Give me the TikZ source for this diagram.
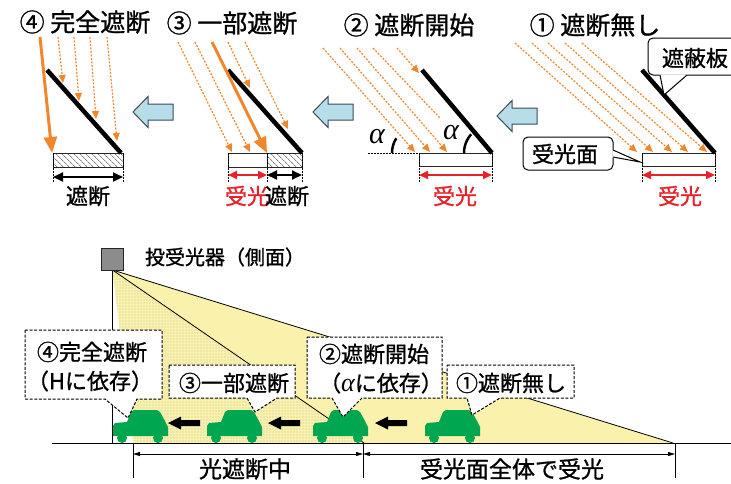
\documentclass[tikz,border=0pt]{standalone}
\usepackage{fontspec}
\setmainfont{Noto Sans CJK JP}[FakeBold=1.0]
\newfontfamily\greekfont{Liberation Serif}
\usetikzlibrary{arrows.meta,patterns.meta}

\definecolor{rayorange}{RGB}{240,135,45}
\definecolor{recvred}{RGB}{232,32,40}
\definecolor{shiftblue}{RGB}{183,221,232}
\definecolor{shiftedge}{RGB}{60,75,90}
\definecolor{beamyellow}{RGB}{249,241,172}
\definecolor{cargreen}{RGB}{0,166,80}
\definecolor{sensorgray}{RGB}{140,140,140}

\newcommand{\angsym}{{\greekfont\itshape α}}

\begin{document}
\begin{tikzpicture}[x=1pt,y=-1pt,
  paneltitle/.style={font=\fontsize{25}{28}\selectfont, inner sep=0},
  paneltxt/.style={font=\fontsize{22}{24}\selectfont, inner sep=0},
  notetxt/.style={font=\fontsize{22}{24}\selectfont, inner sep=0},
  dimtxt/.style={font=\fontsize{23}{26}\selectfont, inner sep=0},
  sensortxt/.style={font=\fontsize{20}{22}\selectfont, inner sep=0},
  alphatxt/.style={font=\fontsize{30}{30}\selectfont, inner sep=0},
  plate/.style={line width=4.5pt},
  recvbox/.style={draw=black!85, line width=0.8pt, fill=white},
  hatchfill/.style={pattern={Lines[angle=-45,distance=4pt,line width=0.6pt]}, pattern color=black!75},
  raydashed/.style={draw=rayorange, line width=1.2pt, dash pattern=on 2pt off 1.5pt,
                    -{Triangle[length=8pt,width=7pt]}},
  raydashedplain/.style={draw=rayorange, line width=1.2pt, dash pattern=on 2pt off 1.5pt},
  raysolid/.style={draw=rayorange, line width=3pt, -{Triangle[length=16pt,width=13pt]}},
  guide/.style={draw=black, line width=0.8pt, dash pattern=on 1.5pt off 1.5pt},
  redspan/.style={draw=recvred, line width=2pt,
                  {Triangle[length=9pt,width=8pt]}-{Triangle[length=9pt,width=8pt]}},
  blackspan/.style={draw=black, line width=2.2pt,
                  {Triangle[length=10pt,width=9pt]}-{Triangle[length=10pt,width=9pt]}},
  bubble/.style={draw=black, line width=1pt, fill=white, rounded corners=5pt},
  notebox/.style={draw=black, line width=1pt, dash pattern=on 3pt off 1.6pt, fill=white},
  dimline/.style={draw=black, line width=0.8pt,
                  {Triangle[length=7pt,width=4pt]}-{Triangle[length=7pt,width=4pt]}},
  shiftarrow/.pic={
    \draw[fill=shiftblue, draw=shiftedge, line width=1pt]
      (0,0) -- (15,-15.5) -- (15,-8) -- (40,-8) -- (40,8) -- (15,8) -- (15,15.5) -- cycle;
  },
  movearrow/.pic={
    \fill[black] (0,0) -- (13,-6.5) -- (13,-3) -- (32,-3) -- (32,3) -- (13,3) -- (13,6.5) -- cycle;
  },
  car/.pic={
    \fill[cargreen] (0,-7) -- (0,-17) -- (2,-20) -- (14,-21) -- (18,-31) -- (21,-33)
      -- (44,-33) -- (47,-31) -- (52,-22) -- (55,-16) -- (55,-7) -- cycle;
    \fill[cargreen] (9,-5) circle[radius=5];
    \fill[cargreen] (45,-5) circle[radius=5];
  }
]
\useasboundingbox (0,0) rectangle (731,483);
\clip (0,0) rectangle (731,483);

% ================= upper strip: four stages of the shield =================
\node[paneltitle] (t4) at (85,22) {④ 完全遮断};
\node[paneltitle] (t3) at (232,23) {③ 一部遮断};
\node[paneltitle] (t2) at (409,25) {② 遮断開始};
\node[paneltitle] (t1) at (595,25) {① 遮断無し};

% stage 4: fully blocked
\coordinate (p4a) at (47,70);   \coordinate (p4b) at (121,153);
\fill[white] (53,153) rectangle (123,167);
\fill[hatchfill] (53,153) rectangle (123,167);
\draw[draw=black!85, line width=0.8pt] (53,153) rectangle (123,167);
\draw[guide] (53,153) -- (53,183);
\draw[guide] (123,153) -- (123,183);
\coordinate (s4a) at (53,177); \coordinate (s4b) at (123,177);
\draw[blackspan] (s4a) -- (s4b);
\node[paneltxt] (l4) at (88,196) {遮断};
\draw[plate] (p4a) -- (p4b);
\draw[raydashed] (58,37) -- (63,83);
\draw[raydashed] (74,37) -- (79,101);
\draw[raydashed] (90,37) -- (96,119);
\draw[raydashed] (107,37) -- (117,141);
\draw[raysolid] (40,37) -- (52,153);

\pic at (133,112) {shiftarrow};

% stage 3: partly blocked
\coordinate (p3a) at (228,70);  \coordinate (p3b) at (302,153);
\draw[recvbox] (228,153) rectangle (267,167);
\fill[white] (267,153) rectangle (302,167);
\fill[hatchfill] (267,153) rectangle (302,167);
\draw[draw=black!85, line width=0.8pt] (267,153) rectangle (302,167);
\draw[guide] (228,153) -- (228,183);
\draw[guide] (267,153) -- (267,183);
\draw[guide] (302,153) -- (302,183);
\coordinate (s3a) at (228,175); \coordinate (s3m) at (267,175); \coordinate (s3b) at (302,175);
\draw[redspan] (s3a) -- (s3m);
\draw[blackspan, line width=2pt] (s3m) -- (s3b);
\node[paneltxt, text=recvred] (l3a) at (247,196) {受光};
\node[paneltxt] (l3b) at (287,196) {遮断};
\draw[plate] (p3a) -- (p3b);
\draw[raydashed] (178,42) -- (232,152);
\draw[raydashed] (195,42) -- (250,152);
\draw[raydashed] (228,42) -- (250,88);
\draw[raydashed] (245,42) -- (288,129);
\draw[raysolid] (212,42) -- (267,153);

\pic at (313,112) {shiftarrow};

% stage 2: blocking begins
\coordinate (p2a) at (422,70);  \coordinate (p2b) at (492,153);
\draw[recvbox] (419,153) rectangle (492,166);
\draw[guide] (368,153) -- (419,153);
\draw[guide] (419,153) -- (419,183);
\draw[guide] (492,153) -- (492,183);
\coordinate (s2a) at (419,175); \coordinate (s2b) at (492,175);
\draw[redspan] (s2a) -- (s2b);
\node[paneltxt, text=recvred] (l2) at (455,196) {受光};
\draw[plate] (p2a) -- (p2b);
\draw[raydashed] (323,48) -- (415,152);
\draw[raydashed] (340,48) -- (430,152);
\draw[raydashed] (357,48) -- (447,152);
\draw[raydashedplain] (373,48) -- (440,118);
\draw[raydashed] (397,48) -- (419,73);
\node[alphatxt] (a2l) at (377,137) {\angsym};
\node[alphatxt] (a2r) at (451,133) {\angsym};
\draw[line width=2.5pt] plot[domain=180:213, samples=12] ({419+27*cos(\x)},{153+27*sin(\x)});
\draw[line width=2.5pt] plot[domain=180:222, samples=12] ({492+28*cos(\x)},{153+28*sin(\x)});

\pic at (497,116) {shiftarrow};

% stage 1: no blocking
\coordinate (p1a) at (642,70);  \coordinate (p1b) at (715,153);
\draw[recvbox] (642,153) rectangle (715,166);
\draw[guide] (642,153) -- (642,183);
\draw[guide] (715,153) -- (715,183);
\coordinate (s1a) at (642,175); \coordinate (s1b) at (715,175);
\draw[redspan] (s1a) -- (s1b);
\node[paneltxt, text=recvred] (l1) at (680,196) {受光};
\draw[plate] (p1a) -- (p1b);
\draw[raydashed] (515,43) -- (637,152);
\draw[raydashed] (532,43) -- (653,152);
\draw[raydashed] (548,43) -- (672,152);
\draw[raydashed] (565,43) -- (688,152);
\draw[raydashed] (582,43) -- (707,152);

% callout: shield plate
\draw[bubble] (648,38) rectangle (748,75);
\fill[white] (659.5,74.3) -- (664,94) -- (687.5,74.3) -- cycle;
\draw[line width=1pt] (660,75) -- (664,95) -- (687,75);
\node[paneltxt] (shieldtxt) at (695,58) {遮蔽板};

% callout: receiving surface
\draw[bubble] (523,137) rectangle (613,170);
\fill[white] (612.3,149.5) -- (640,162) -- (612.3,157.5) -- cycle;
\draw[line width=1pt] (613,150) -- (640,162) -- (613,157);
\node[paneltxt] (surftxt) at (565,154) {受光面};

% ================= lower strip: side view of the beam =================
\coordinate (apex) at (112.5,270);
\coordinate (farend) at (673,443);
\coordinate (midend) at (364,443);
\coordinate (nearend) at (133,443);

\fill[beamyellow] (apex) -- (farend) -- (nearend) -- cycle;
\fill[pattern={Dots[distance=3pt,radius=0.45pt]}, pattern color=black!55]
  (apex) -- (midend) -- (nearend) -- cycle;
\draw[line width=0.8pt] (apex) -- (farend);
\draw[line width=0.8pt] (apex) -- (midend);

\coordinate (polefoot) at (112,443);
\node[draw=black!85, line width=1pt, fill=sensorgray, minimum width=22pt, minimum height=22pt,
      inner sep=0] (sensor) at (112,259) {};
\draw[line width=0.8pt] (sensor.south) -- (polefoot);
\coordinate (groundL) at (52,443); \coordinate (groundR) at (731,443);
\draw[line width=0.8pt] (groundL) -- (groundR);
\node[sensortxt] (sensortitle) at (225,257) {投受光器（側面）};

% vehicles moving to the left
\pic at (113,443) {car};
\pic at (207,443) {car};
\pic at (313,443) {car};
\pic at (425,443) {car};
\pic at (168,423) {movearrow};
\pic at (268,423) {movearrow};
\pic at (375,423) {movearrow};

% dashed notes
\draw[notebox] (25,330) -- (162,330) -- (162,399) -- (137,399) -- (128,418) -- (105,399)
  -- (25,399) -- cycle;
\node[notetxt] (n4a) at (92,352) {④完全遮断};
\node[notetxt] (n4b) at (90,381) {（Hに依存）};

\draw[notebox] (169,365) -- (295,365) -- (295,398) -- (277,398) -- (255,412) -- (247,398)
  -- (169,398) -- cycle;
\node[notetxt] (n3) at (234,383) {③一部遮断};

\draw[notebox] (307,337) -- (442,337) -- (442,398) -- (362,398) -- (343,417) -- (332,398)
  -- (307,398) -- cycle;
\node[notetxt] (n2a) at (374,354) {②遮断開始};
\node[notetxt] (n2b) at (381,383) {（{\fontsize{26}{26}\selectfont\angsym}に依存）};

\draw[notebox] (447,365) -- (574,365) -- (574,398) -- (500,398) -- (472,415) -- (467,398)
  -- (447,398) -- cycle;
\node[notetxt] (n1) at (511,383) {①遮断無し};

% dimension lines
\coordinate (d1t) at (133,443); \coordinate (d1b) at (133,478);
\coordinate (d2t) at (363,443); \coordinate (d2b) at (363,478);
\coordinate (d3t) at (675,443); \coordinate (d3b) at (675,478);
\draw[line width=0.8pt] (d1t) -- (d1b);
\draw[line width=0.8pt] (d2t) -- (d2b);
\draw[line width=0.8pt] (d3t) -- (d3b);
\coordinate (dA) at (133,454); \coordinate (dB) at (363,454); \coordinate (dC) at (675,454);
\draw[dimline] (dA) -- (dB);
\draw[dimline] (dB) -- (dC);
\node[dimtxt] (dimblock) at (245,469) {光遮断中};
\node[dimtxt] (dimrecv) at (512,469) {受光面全体で受光};
\end{tikzpicture}
\end{document}
